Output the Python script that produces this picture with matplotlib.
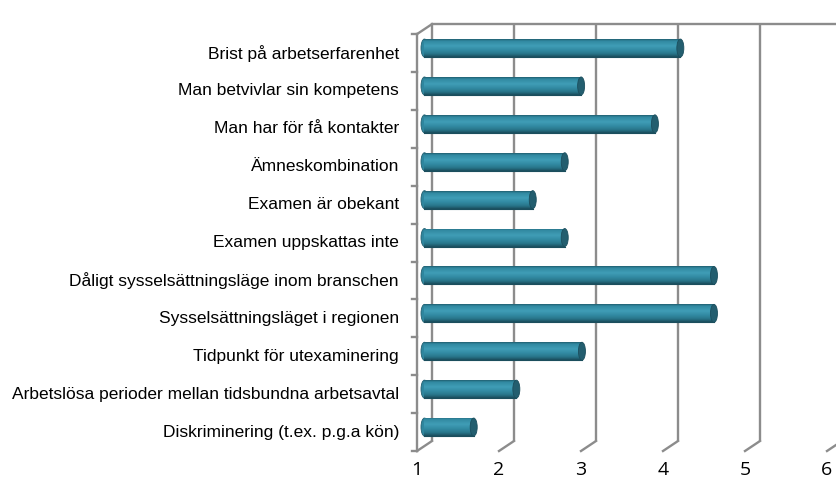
import numpy as np
import matplotlib
matplotlib.use("Agg")
import matplotlib.pyplot as plt
from matplotlib.patches import Ellipse, Rectangle
from matplotlib.colors import LinearSegmentedColormap

# categories from top to bottom, as in the chart
categories = [
    "Brist på arbetserfarenhet",
    "Man betvivlar sin kompetens",
    "Man har för få kontakter",
    "Ämneskombination",
    "Examen är obekant",
    "Examen uppskattas inte",
    "Dåligt sysselsättningsläge inom branschen",
    "Sysselsättningsläget i regionen",
    "Tidpunkt för utexaminering",
    "Arbetslösa perioder mellan tidsbundna arbetsavtal",
    "Diskriminering (t.ex. p.g.a kön)",
]
values = [4.12, 2.91, 3.81, 2.71, 2.32, 2.71, 4.53, 4.53, 2.92, 2.12, 1.60]
x_ticks = [1, 2, 3, 4, 5, 6]

n = len(categories)

W, H = 837, 492
fig = plt.figure(figsize=(W / 100, H / 100), dpi=100)
ax = fig.add_axes([0, 0, 1, 1])
ax.axis("off")

# pixel geometry of the front plane -> data limits
px_per_val = 82.0
px_per_cat = 37.9
x1_px, y0_px = 417.0, 451.0
xlim = (1 - x1_px / px_per_val, 1 + (W - x1_px) / px_per_val)
ylim = ((y0_px - H) / px_per_cat, y0_px / px_per_cat)

# depth offset of the back wall
dx = 15 / px_per_val
dy = 10 / px_per_cat

grid_c = "#8c8c8c"
lw = 1.7

# back wall
for v in x_ticks:
    ax.plot([v + dx, v + dx], [dy, n + dy], color=grid_c, lw=lw, zorder=1,
            solid_capstyle="butt")
    ax.plot([v, v + dx], [0, dy], color=grid_c, lw=lw, zorder=1)
ax.plot([1 + dx, x_ticks[-1] + dx + 1], [n + dy, n + dy], color=grid_c, lw=lw, zorder=1)

# left wall edge, ticks and top corner
ax.plot([1, 1], [0, n], color=grid_c, lw=lw, zorder=1)
ax.plot([1, 1 + dx], [n, n + dy], color=grid_c, lw=lw, zorder=1)
for k in range(n + 1):
    ax.plot([1 - 5 / px_per_val, 1], [k, k], color=grid_c, lw=lw, zorder=1)

# cylinder shading
shade = LinearSegmentedColormap.from_list("cyl", [
    (0.0, "#215f70"),
    (0.1, "#3189a1"),
    (0.38, "#409db6"),
    (0.6, "#338ca4"),
    (0.82, "#28768b"),
    (1.0, "#1b4e5d"),
])
grad = np.linspace(0, 1, 64).reshape(-1, 1)

r = 9 / px_per_cat
ew = 7 / px_per_val
x_start = 1 + dx / 2
for i, (cat, v) in enumerate(zip(categories, values)):
    yc = n - i - 0.5 + dy / 2
    x_end = v + dx / 2
    # left rounded end
    ax.add_patch(Ellipse((x_start, yc), ew, 2 * r, facecolor="#2f869e",
                         edgecolor="#225f70", lw=0.6, zorder=3))
    body = Rectangle((x_start, yc - r), x_end - x_start, 2 * r,
                     facecolor="none", edgecolor="none", zorder=4)
    ax.add_patch(body)
    im = ax.imshow(grad, cmap=shade, aspect="auto", zorder=4,
                   extent=[x_start, x_end, yc - r, yc + r], origin="upper",
                   interpolation="bilinear")
    im.set_clip_path(body)
    ax.plot([x_start, x_end], [yc - r, yc - r], color="#1b4e5d", lw=0.8, zorder=5)
    # end cap
    ax.add_patch(Ellipse((x_end, yc), ew, 2 * r, facecolor="#235e6f",
                         edgecolor="#1b4e5d", lw=0.6, zorder=6))
    # category label
    ax.text(1 - 18 / px_per_val, n - i - 0.5, cat, ha="right", va="center",
            fontsize=12.5, family="Liberation Sans", color="#000000")

for v in x_ticks:
    ax.text(v, -19 / px_per_cat, str(v), ha="center", va="center",
            fontsize=14, family="Open Sans", color="#000000")

ax.set_xlim(*xlim)
ax.set_ylim(*ylim)

fig.savefig("out.png", dpi=100)
